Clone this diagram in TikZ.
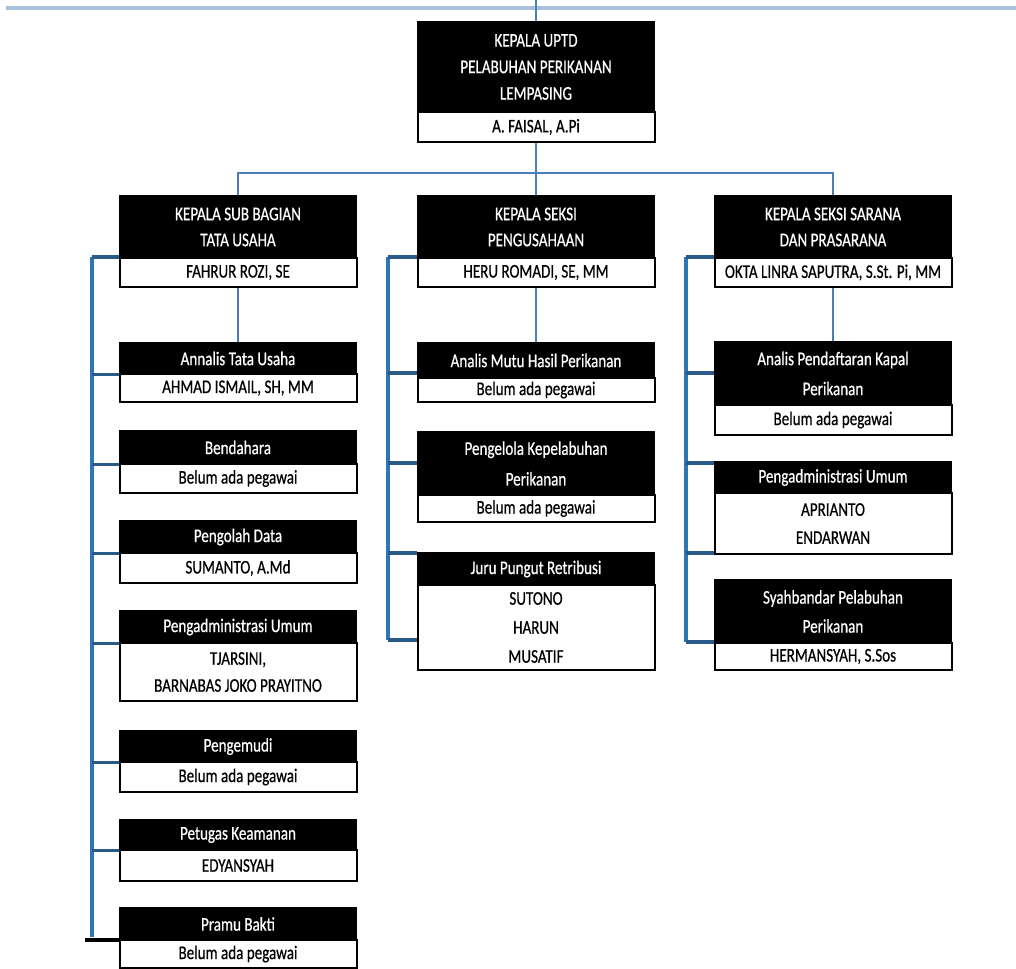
\documentclass[tikz,border=0pt]{standalone}
\usepackage{fontspec}
\newfontfamily\calf[FakeStretch=0.78,FakeBold=0.6]{Carlito}
\usetikzlibrary{calc}
\definecolor{brk}{HTML}{2E75B6}
\definecolor{tk}{HTML}{2A5A88}
\definecolor{cn}{HTML}{4A7EBB}
\definecolor{topl}{HTML}{A9C0DC}
\tikzset{
  ttl/.style={fill=black, draw=black, text=white, line width=1pt, inner sep=0pt, align=center, minimum width=177.75pt},
  nmb/.style={fill=white, draw=black, line width=1.5pt, inner sep=0pt, align=center, minimum width=177.75pt, text=black},
  brkline/.style={draw=brk, line width=2.6pt},
  tickline/.style={draw=tk, line width=2.6pt},
  conn/.style={draw=cn, line width=1.5pt},
  topline/.style={draw=topl, line width=2.6pt},
}
\newcommand\ob[8]{%
  \node[ttl, minimum height={(#4-#3)*0.75pt}, font={\calf\fontsize{14.5}{#8}\selectfont}] (#1t) at (#2,{(#3+#4)/2}) {#6};
  \node[nmb, minimum height={(#5-#4)*0.75pt}, font={\calf\fontsize{14.5}{#8}\selectfont}] (#1n) at (#2,{(#4+#5)/2}) {#7};
}
\begin{document}
\begin{tikzpicture}[x=0.75pt,y=-0.75pt]
\useasboundingbox (0,0) rectangle (1016,969);
% top line
\coordinate (tl1) at (6,8);
\coordinate (tl2) at (1016,8);
\draw[topline] (tl1) -- (tl2);
% boxes
\ob{top}{536}{22}{112}{142}{KEPALA UPTD\\PELABUHAN PERIKANAN\\LEMPASING}{A. FAISAL, A.Pi}{19.9}
\ob{la}{238}{196}{258}{287}{KEPALA SUB BAGIAN\\TATA USAHA}{FAHRUR ROZI, SE}{19.5}
\ob{ma}{536}{196}{258}{287}{KEPALA SEKSI\\PENGUSAHAAN}{HERU ROMADI, SE, MM}{19.5}
\ob{ra}{833}{196}{258}{287}{KEPALA SEKSI SARANA\\DAN PRASARANA}{OKTA LINRA SAPUTRA, S.St. Pi, MM}{19.5}
% left column
\ob{lb}{238}{343}{374}{402}{Annalis Tata Usaha}{AHMAD ISMAIL, SH, MM}{21.75}
\ob{lc}{238}{431}{464}{493}{Bendahara}{Belum ada pegawai}{21.75}
\ob{ld}{238}{521}{553}{583}{Pengolah Data}{SUMANTO, A.Md}{21.75}
\ob{le}{238}{611}{643}{701}{Pengadministrasi Umum}{TJARSINI,\\BARNABAS JOKO PRAYITNO}{20.25}
\ob{lf}{238}{731}{762}{792}{Pengemudi}{Belum ada pegawai}{21.75}
\ob{lg}{238}{820}{850}{881}{Petugas Keamanan}{EDYANSYAH}{21.75}
\ob{lh}{238}{908}{940}{968}{Pramu Bakti}{Belum ada pegawai}{21.75}
% middle column
\ob{mb}{536}{343}{378}{402}{Analis Mutu Hasil Perikanan}{Belum ada pegawai}{21.75}
\ob{mc}{536}{432}{495}{522}{Pengelola Kepelabuhan\\Perikanan}{Belum ada pegawai}{23}
\ob{md}{536}{553}{585}{670}{Juru Pungut Retribusi}{SUTONO\\HARUN\\MUSATIF}{21.75}
% right column
\ob{rb}{833}{342}{405}{435}{Analis Pendaftaran Kapal\\Perikanan}{Belum ada pegawai}{22.5}
\ob{rc}{833}{462}{493}{554}{Pengadministrasi Umum}{APRIANTO\\ENDARWAN}{21}
\ob{rd}{833}{580}{643}{670}{Syahbandar Pelabuhan\\Perikanan}{HERMANSYAH, S.Sos}{21.75}
% hierarchy connectors
\coordinate (tv) at (536,0);
\draw[conn] (tv) -- (topt.north);
\draw[conn] (topn.south) -- ++(0,30) coordinate (hub);
\draw[conn] (lat.north) |- (hub) -| (rat.north);
\draw[conn] (hub) -- (mat.north);
\draw[conn] (lan.south) -- (lbt.north);
\draw[conn] (man.south) -- (mbt.north);
\draw[conn] (ran.south) -- (rbt.north);
% left bracket
\coordinate (Lb) at (92,257);
\coordinate (Le) at (92,937);
\draw[brkline] (Lb) -- (Le);
\draw[tickline] (Lb) -- (Lb -| lat.west);
\draw[tickline] (Lb |- lbt.south) -- (lbt.south west);
\draw[tickline] (Lb |- lct.south) -- (lct.south west);
\draw[tickline] (Lb |- ldt.south) -- (ldt.south west);
\draw[tickline] (Lb |- let.south) -- (let.south west);
\draw[tickline] (Lb |- lft.south) -- (lft.south west);
\draw[tickline] (Lb |- lgt.south) -- (lgt.south west);
\coordinate (Lk) at (85,940);
\draw[black, line width=2.6pt] (Lk) -- (Lk -| lht.west);
% middle bracket
\coordinate (Mb) at (388,257);
\coordinate (Me) at (388,640);
\coordinate (m2) at (388,373);
\coordinate (m3) at (388,463);
\coordinate (m4) at (388,553);
\draw[brkline] (Mb) -- (Me);
\draw[tickline] (Mb) -- (Mb -| mat.west);
\draw[tickline] (m2) -- (m2 -| mbt.west);
\draw[tickline] (m3) -- (m3 -| mct.west);
\draw[tickline] (m4) -- (m4 -| mdt.west);
\draw[tickline] (Me) -- (Me -| mdn.west);
% right bracket
\coordinate (Rb) at (686,257);
\coordinate (Re) at (686,642);
\coordinate (r2) at (686,373);
\coordinate (r3) at (686,463);
\coordinate (r4) at (686,553);
\draw[brkline] (Rb) -- (Re);
\draw[tickline] (Rb) -- (Rb -| rat.west);
\draw[tickline] (r2) -- (r2 -| rbt.west);
\draw[tickline] (r3) -- (r3 -| rct.west);
\draw[tickline] (r4) -- (r4 -| rcn.west);
\draw[tickline] (Re) -- (Re -| rdt.west);
\end{tikzpicture}
\end{document}
